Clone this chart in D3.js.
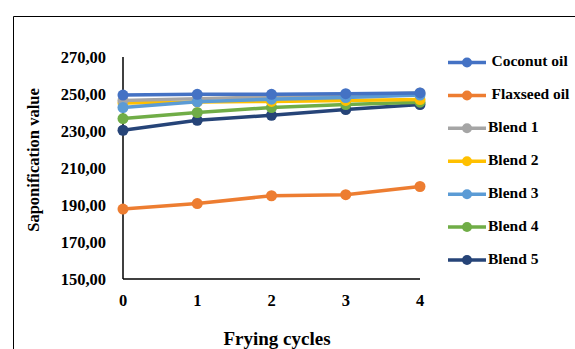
<!DOCTYPE html>
<html><head><meta charset="utf-8">
<script src="https://cdn.jsdelivr.net/npm/d3@7"></script>
<style>body{margin:0;background:#fff}svg{display:block}</style>
</head><body><div id="c"></div>
<script>
const cycles = [0, 1, 2, 3, 4];
const seriesNames = ["Coconut oil", "Flaxseed oil", "Blend 1", "Blend 2", "Blend 3", "Blend 4", "Blend 5"];
const coconut = [249.4, 249.8, 249.8, 250.2, 250.6];
const flaxseed = [187.8, 190.8, 195.0, 195.6, 200.0];
const blend1 = [246.5, 247.5, 248.5, 249.5, 250.6];
const blend2 = [245.2, 245.7, 246.0, 246.5, 247.0];
const blend3 = [242.7, 245.8, 247.2, 248.1, 249.4];
const blend4 = [236.7, 240.0, 242.7, 244.3, 245.6];
const blend5 = [230.4, 235.8, 238.5, 241.6, 244.3];
const yTicks = [150, 170, 190, 210, 230, 250, 270];
const colors = ["#4472C4", "#ED7D31", "#A5A5A5", "#FFC000", "#5B9BD5", "#70AD47", "#264478"];
// drawing order: bottom to top
const drawOrder = [1, 6, 5, 3, 2, 4, 0];
const values = [coconut, flaxseed, blend1, blend2, blend3, blend4, blend5];

const W = 575, H = 349;
const svg = d3.select("#c").append("svg").attr("width", W).attr("height", H);
const font = "'Liberation Serif','Times New Roman',serif";

// outer frame
svg.append("path").attr("d", `M13.5,${H} V16.5 H${W}`).attr("fill", "none").attr("stroke", "#000").attr("stroke-width", 1);

const x = d3.scaleLinear().domain([0, 4]).range([123, 420]);
const y = d3.scaleLinear().domain([150, 270]).range([279, 57]);

// axes
svg.append("line").attr("x1", x(0)).attr("x2", x(0)).attr("y1", y(270)).attr("y2", y(150)).attr("stroke", "#000").attr("stroke-width", 1.5);
svg.append("line").attr("x1", x(0)).attr("x2", x(4)).attr("y1", y(150)).attr("y2", y(150)).attr("stroke", "#000").attr("stroke-width", 1.5);

svg.selectAll(".yt").data(yTicks).enter().append("text")
  .attr("x", 106).attr("y", d => y(d) + 5.5).attr("text-anchor", "end")
  .attr("font-family", font).attr("font-weight", "bold").attr("font-size", 16.5)
  .text(d => d.toFixed(2).replace(".", ","));
svg.selectAll(".xt").data(cycles).enter().append("text")
  .attr("x", d => x(d)).attr("y", 306).attr("text-anchor", "middle")
  .attr("font-family", font).attr("font-weight", "bold").attr("font-size", 16.5)
  .text(d => d);

svg.append("text").attr("x", 277).attr("y", 345).attr("text-anchor", "middle")
  .attr("font-family", font).attr("font-weight", "bold").attr("font-size", 19).text("Frying cycles");
svg.append("text").attr("transform", "translate(39,160) rotate(-90)").attr("text-anchor", "middle")
  .attr("font-family", font).attr("font-weight", "bold").attr("font-size", 16.5).text("Saponification value");

const line = d3.line().x((d, i) => x(cycles[i])).y(d => y(d));
drawOrder.forEach(k => {
  const g = svg.append("g");
  g.append("path").attr("d", line(values[k])).attr("fill", "none").attr("stroke", colors[k]).attr("stroke-width", 3.5);
  g.selectAll("circle").data(values[k]).enter().append("circle")
    .attr("cx", (d, i) => x(cycles[i])).attr("cy", d => y(d)).attr("r", 5.5).attr("fill", colors[k]);
});

// legend
const legY = d3.scaleLinear().domain([0, 6]).range([62.5, 260]);
seriesNames.forEach((name, k) => {
  const yy = legY(k);
  svg.append("line").attr("x1", 448).attr("x2", 486).attr("y1", yy).attr("y2", yy).attr("stroke", colors[k]).attr("stroke-width", 3.5);
  svg.append("circle").attr("cx", 467).attr("cy", yy).attr("r", 5).attr("fill", colors[k]);
  svg.append("text").attr("x", k < 2 ? 491.5 : 488).attr("y", yy + 3.5)
    .attr("font-family", font).attr("font-weight", "bold").attr("font-size", 15.5).text(name);
});
</script></body></html>
